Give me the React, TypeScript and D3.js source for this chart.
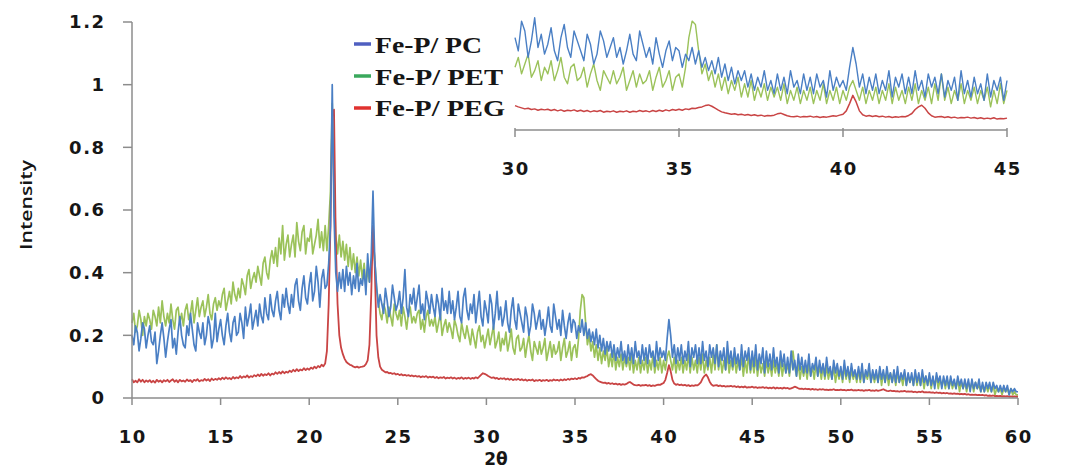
import React from 'react';
import * as d3 from 'd3';

// 2θ sampling of the diffractograms
const START_2THETA = 10;
const STEP_2THETA = 0.1;

const xTicks = [10, 15, 20, 25, 30, 35, 40, 45, 50, 55, 60];
const yTicks = [0, 0.2, 0.4, 0.6, 0.8, 1, 1.2];
const insetTicks = [30, 35, 40, 45];

const seriesNames = ['Fe-P/ PC', 'Fe-P/ PET', 'Fe-P/ PEG'];

// Fe-P/ PC intensities, one row per degree (x.0 … x.9)
const pcIntensity = [
  0.2, 0.17, 0.23, 0.21, 0.15, 0.19, 0.24, 0.22, 0.16, 0.2,
  0.23, 0.18, 0.17, 0.21, 0.11, 0.15, 0.2, 0.24, 0.19, 0.13,
  0.18, 0.22, 0.25, 0.16, 0.19, 0.14, 0.21, 0.26, 0.2, 0.17,
  0.16, 0.23, 0.2, 0.27, 0.22, 0.17, 0.15, 0.24, 0.21, 0.19,
  0.24, 0.17, 0.2, 0.26, 0.23, 0.16, 0.19, 0.27, 0.18, 0.22,
  0.25, 0.2, 0.17, 0.23, 0.27, 0.21, 0.18, 0.24, 0.26, 0.2,
  0.21, 0.27, 0.24, 0.19, 0.29, 0.23, 0.26, 0.3, 0.22, 0.25,
  0.28, 0.23, 0.3, 0.26, 0.24, 0.32, 0.27, 0.25, 0.33, 0.28,
  0.26, 0.31, 0.34, 0.28, 0.25, 0.33, 0.29, 0.35, 0.3, 0.27,
  0.33, 0.29, 0.36, 0.38, 0.31, 0.28, 0.35, 0.39, 0.32, 0.3,
  0.36, 0.4, 0.31, 0.34, 0.42, 0.37, 0.29, 0.38, 0.41, 0.35,
  0.36, 0.43, 0.55, 1.0, 0.58, 0.4, 0.34, 0.4, 0.35, 0.41,
  0.34, 0.42, 0.36, 0.4, 0.33, 0.39, 0.35, 0.43, 0.34, 0.38,
  0.36, 0.41, 0.33, 0.46, 0.37, 0.45, 0.66, 0.44, 0.36, 0.29,
  0.33, 0.3, 0.27, 0.35, 0.31, 0.26, 0.29, 0.36, 0.32, 0.28,
  0.3, 0.34, 0.27, 0.32, 0.41, 0.29, 0.26, 0.33, 0.3, 0.35,
  0.28, 0.32, 0.36, 0.27, 0.3, 0.25, 0.34, 0.31, 0.27, 0.33,
  0.29, 0.26, 0.33, 0.3, 0.25, 0.35, 0.28, 0.31, 0.27, 0.34,
  0.27, 0.31, 0.25, 0.29, 0.34, 0.26, 0.24, 0.32, 0.35, 0.28,
  0.25, 0.3, 0.27, 0.33, 0.24, 0.29, 0.34, 0.26, 0.23, 0.31,
  0.28, 0.24, 0.33, 0.3, 0.22, 0.27, 0.34, 0.25, 0.29, 0.23,
  0.26, 0.31, 0.24, 0.21, 0.28, 0.32, 0.25, 0.22, 0.3, 0.27,
  0.24, 0.21, 0.29, 0.26, 0.2, 0.23, 0.3, 0.27, 0.22, 0.25,
  0.28, 0.22, 0.25, 0.2, 0.24, 0.29, 0.23, 0.21, 0.3, 0.26,
  0.22, 0.25, 0.2, 0.28, 0.23, 0.19, 0.24, 0.27, 0.21, 0.25,
  0.24, 0.19, 0.23, 0.21, 0.25, 0.2, 0.24, 0.19, 0.22, 0.18,
  0.21, 0.17, 0.22, 0.16, 0.2, 0.15, 0.19, 0.14, 0.18, 0.15,
  0.18, 0.13, 0.17, 0.12, 0.16, 0.13, 0.18, 0.12, 0.15, 0.11,
  0.17, 0.12, 0.16, 0.11, 0.18, 0.13, 0.15, 0.11, 0.17, 0.12,
  0.16, 0.11, 0.17, 0.13, 0.15, 0.1, 0.18, 0.12, 0.16, 0.13,
  0.15, 0.12, 0.19, 0.25, 0.2, 0.13, 0.17, 0.11, 0.16, 0.12,
  0.17, 0.11, 0.15, 0.12, 0.18, 0.1, 0.16, 0.13, 0.17, 0.11,
  0.16, 0.11, 0.18, 0.12, 0.15, 0.1, 0.17, 0.13, 0.16, 0.11,
  0.17, 0.1, 0.15, 0.12, 0.16, 0.09, 0.18, 0.11, 0.15, 0.1,
  0.16, 0.11, 0.14, 0.09, 0.17, 0.1, 0.15, 0.12, 0.16, 0.09,
  0.15, 0.1, 0.17, 0.09, 0.14, 0.11, 0.16, 0.08, 0.15, 0.1,
  0.14, 0.09, 0.16, 0.1, 0.13, 0.08, 0.15, 0.1, 0.14, 0.08,
  0.13, 0.08, 0.15, 0.09, 0.12, 0.07, 0.14, 0.09, 0.13, 0.08,
  0.12, 0.08, 0.14, 0.07, 0.11, 0.09, 0.13, 0.07, 0.12, 0.08,
  0.11, 0.07, 0.13, 0.08, 0.1, 0.06, 0.12, 0.08, 0.11, 0.07,
  0.1, 0.06, 0.12, 0.07, 0.1, 0.06, 0.11, 0.07, 0.09, 0.06,
  0.1, 0.06, 0.11, 0.05, 0.09, 0.07, 0.11, 0.05, 0.09, 0.06,
  0.09, 0.05, 0.1, 0.06, 0.09, 0.05, 0.1, 0.06, 0.08, 0.05,
  0.09, 0.05, 0.1, 0.05, 0.08, 0.06, 0.09, 0.04, 0.08, 0.05,
  0.08, 0.04, 0.09, 0.05, 0.08, 0.04, 0.09, 0.05, 0.07, 0.04,
  0.08, 0.04, 0.07, 0.03, 0.08, 0.05, 0.07, 0.03, 0.07, 0.04,
  0.07, 0.03, 0.07, 0.04, 0.06, 0.03, 0.07, 0.04, 0.06, 0.03,
  0.06, 0.03, 0.06, 0.02, 0.06, 0.03, 0.05, 0.03, 0.06, 0.02,
  0.05, 0.02, 0.05, 0.03, 0.05, 0.02, 0.05, 0.03, 0.04, 0.02,
  0.04, 0.02, 0.04, 0.02, 0.04, 0.01, 0.03, 0.02, 0.03, 0.02,
  0.02,
];

// Fe-P/ PET intensities
const petIntensity = [
  0.24, 0.27, 0.21, 0.23, 0.28, 0.25, 0.2, 0.26, 0.23, 0.27,
  0.25, 0.22, 0.28, 0.26, 0.23, 0.29, 0.24, 0.31, 0.26, 0.23,
  0.27, 0.24, 0.3, 0.25, 0.22, 0.28, 0.29, 0.24, 0.27, 0.23,
  0.28, 0.3, 0.25, 0.27, 0.31, 0.24, 0.28, 0.32, 0.26, 0.29,
  0.31, 0.26, 0.29, 0.33, 0.27, 0.25, 0.3, 0.32, 0.28, 0.31,
  0.29, 0.33, 0.35, 0.28, 0.31, 0.34, 0.3, 0.37, 0.33, 0.31,
  0.35, 0.32, 0.38, 0.36, 0.33, 0.39, 0.41, 0.35, 0.38, 0.4,
  0.37, 0.42, 0.39, 0.36, 0.43, 0.45, 0.4, 0.38, 0.44, 0.47,
  0.43, 0.48, 0.42, 0.51, 0.46, 0.55, 0.44, 0.49, 0.52, 0.45,
  0.49, 0.52, 0.45, 0.56, 0.5, 0.47, 0.53, 0.55, 0.46, 0.51,
  0.5, 0.54, 0.46, 0.49, 0.52, 0.57, 0.48, 0.53, 0.47, 0.55,
  0.47, 0.55, 0.66, 0.94, 0.68, 0.52, 0.46, 0.52, 0.45, 0.5,
  0.44, 0.49, 0.42, 0.48, 0.41, 0.46, 0.4, 0.45, 0.39, 0.44,
  0.38, 0.43, 0.36, 0.41, 0.37, 0.43, 0.52, 0.44, 0.35, 0.31,
  0.27, 0.25, 0.3, 0.28, 0.24, 0.29, 0.26, 0.23, 0.3, 0.27,
  0.25, 0.28, 0.23, 0.29, 0.26, 0.22, 0.27, 0.29, 0.24, 0.26,
  0.24, 0.27, 0.28, 0.22, 0.25, 0.21, 0.26, 0.28, 0.23, 0.25,
  0.23, 0.26, 0.21, 0.24, 0.27, 0.2, 0.23, 0.25, 0.21, 0.24,
  0.22, 0.19, 0.25, 0.23, 0.2, 0.18, 0.24, 0.21, 0.19, 0.23,
  0.2, 0.17, 0.22, 0.19, 0.16, 0.21, 0.23, 0.18, 0.2, 0.16,
  0.19, 0.22, 0.17, 0.2, 0.23, 0.16, 0.18, 0.21, 0.15, 0.19,
  0.17, 0.21, 0.15, 0.18, 0.22, 0.16, 0.14, 0.19, 0.2, 0.15,
  0.16, 0.19, 0.13, 0.17, 0.2, 0.15, 0.12, 0.18, 0.16, 0.14,
  0.18, 0.14, 0.16, 0.19, 0.12, 0.15, 0.18, 0.13, 0.17, 0.14,
  0.15, 0.18, 0.12, 0.16, 0.19, 0.13, 0.15, 0.18, 0.12, 0.16,
  0.17, 0.13, 0.19, 0.28, 0.33, 0.32, 0.24, 0.17, 0.2, 0.15,
  0.18, 0.13, 0.17, 0.12, 0.16, 0.11, 0.15, 0.12, 0.16, 0.1,
  0.14, 0.1, 0.15, 0.09, 0.13, 0.1, 0.14, 0.09, 0.13, 0.1,
  0.13, 0.09, 0.14, 0.08, 0.12, 0.09, 0.13, 0.08, 0.12, 0.09,
  0.13, 0.08, 0.12, 0.09, 0.14, 0.08, 0.12, 0.09, 0.13, 0.08,
  0.12, 0.09, 0.13, 0.15, 0.12, 0.09, 0.13, 0.08, 0.12, 0.09,
  0.13, 0.08, 0.12, 0.09, 0.14, 0.08, 0.13, 0.09, 0.12, 0.08,
  0.13, 0.09, 0.14, 0.08, 0.12, 0.09, 0.13, 0.08, 0.14, 0.09,
  0.17, 0.09, 0.13, 0.08, 0.12, 0.09, 0.14, 0.08, 0.12, 0.09,
  0.13, 0.08, 0.12, 0.09, 0.13, 0.07, 0.12, 0.08, 0.14, 0.08,
  0.12, 0.08, 0.13, 0.07, 0.12, 0.08, 0.11, 0.07, 0.12, 0.08,
  0.11, 0.07, 0.12, 0.08, 0.11, 0.07, 0.12, 0.07, 0.11, 0.08,
  0.11, 0.07, 0.12, 0.15, 0.1, 0.07, 0.11, 0.06, 0.1, 0.07,
  0.1, 0.06, 0.11, 0.07, 0.1, 0.06, 0.11, 0.07, 0.1, 0.06,
  0.1, 0.06, 0.1, 0.06, 0.09, 0.06, 0.1, 0.05, 0.09, 0.06,
  0.09, 0.05, 0.1, 0.06, 0.09, 0.05, 0.09, 0.06, 0.08, 0.05,
  0.09, 0.05, 0.09, 0.05, 0.08, 0.06, 0.09, 0.05, 0.08, 0.05,
  0.08, 0.05, 0.09, 0.04, 0.08, 0.05, 0.08, 0.04, 0.08, 0.05,
  0.08, 0.04, 0.08, 0.05, 0.07, 0.04, 0.08, 0.04, 0.07, 0.05,
  0.07, 0.04, 0.08, 0.04, 0.07, 0.04, 0.07, 0.03, 0.07, 0.04,
  0.07, 0.03, 0.06, 0.04, 0.07, 0.03, 0.06, 0.04, 0.06, 0.03,
  0.06, 0.03, 0.06, 0.03, 0.05, 0.03, 0.06, 0.02, 0.05, 0.03,
  0.05, 0.02, 0.05, 0.03, 0.05, 0.02, 0.05, 0.03, 0.04, 0.02,
  0.04, 0.02, 0.04, 0.02, 0.04, 0.02, 0.04, 0.01, 0.03, 0.02,
  0.03, 0.01, 0.03, 0.02, 0.03, 0.01, 0.03, 0.01, 0.02, 0.01,
  0.01,
];

// Fe-P/ PEG intensities
const pegIntensity = [
  0.06, 0.05, 0.055, 0.05, 0.06, 0.052, 0.058, 0.05, 0.056, 0.052,
  0.057, 0.05, 0.055, 0.049, 0.058, 0.052, 0.056, 0.05, 0.057, 0.053,
  0.058, 0.051, 0.056, 0.06, 0.052, 0.057, 0.05, 0.058, 0.053, 0.056,
  0.052, 0.059, 0.054, 0.057, 0.051, 0.058, 0.055, 0.06, 0.053, 0.057,
  0.055, 0.061, 0.056, 0.06, 0.054, 0.062, 0.057, 0.061, 0.058, 0.063,
  0.059, 0.065, 0.06, 0.066, 0.061, 0.064, 0.06, 0.067, 0.062, 0.066,
  0.063, 0.07, 0.064, 0.069, 0.066, 0.072, 0.065, 0.07, 0.067, 0.073,
  0.069, 0.075, 0.07, 0.077, 0.071, 0.076, 0.073, 0.079, 0.072, 0.078,
  0.075, 0.082, 0.077, 0.083, 0.078, 0.085, 0.079, 0.084, 0.081, 0.087,
  0.083, 0.09, 0.085, 0.092, 0.086, 0.091, 0.088, 0.095, 0.089, 0.094,
  0.09, 0.097, 0.093, 0.1, 0.095, 0.102, 0.098, 0.106, 0.101, 0.11,
  0.15, 0.3, 0.55, 0.9, 0.92, 0.5, 0.3, 0.2, 0.16, 0.14,
  0.125, 0.115, 0.11, 0.106, 0.104, 0.1, 0.098, 0.1, 0.097, 0.099,
  0.1, 0.102, 0.108, 0.12, 0.17, 0.33, 0.55, 0.42, 0.2, 0.13,
  0.1, 0.09, 0.086, 0.082, 0.083, 0.079, 0.08, 0.077, 0.079, 0.075,
  0.077, 0.073, 0.076, 0.072, 0.074, 0.071, 0.073, 0.07, 0.072, 0.069,
  0.071, 0.068, 0.07, 0.066, 0.069, 0.067, 0.07, 0.065, 0.068, 0.066,
  0.068, 0.064, 0.067, 0.063, 0.066, 0.064, 0.067, 0.062, 0.065, 0.063,
  0.066, 0.062, 0.065, 0.061, 0.064, 0.062, 0.066, 0.061, 0.064, 0.062,
  0.065, 0.061, 0.064, 0.062, 0.066, 0.063, 0.068, 0.074, 0.079, 0.077,
  0.074, 0.07, 0.067, 0.064, 0.066, 0.062, 0.064, 0.06, 0.063, 0.061,
  0.063, 0.059, 0.062, 0.058, 0.061, 0.057, 0.06, 0.058, 0.061, 0.057,
  0.06, 0.056, 0.059, 0.055, 0.058, 0.056, 0.059, 0.054, 0.057, 0.055,
  0.058, 0.054, 0.057, 0.055, 0.058, 0.054, 0.057, 0.055, 0.059, 0.056,
  0.058, 0.055, 0.059, 0.056, 0.06, 0.057, 0.061, 0.058, 0.062, 0.06,
  0.063, 0.06, 0.064, 0.062, 0.066, 0.065, 0.068, 0.07, 0.074, 0.076,
  0.072, 0.066, 0.06, 0.055, 0.052, 0.05, 0.048, 0.049, 0.046, 0.048,
  0.045, 0.047, 0.044, 0.046, 0.043, 0.045, 0.042, 0.044, 0.043, 0.045,
  0.049, 0.051, 0.047, 0.043, 0.041, 0.04, 0.042, 0.039, 0.041, 0.04,
  0.042, 0.039, 0.041, 0.038, 0.04, 0.039, 0.041, 0.043, 0.042, 0.045,
  0.048, 0.058, 0.08, 0.105, 0.085, 0.058, 0.046, 0.042, 0.044, 0.041,
  0.043, 0.04, 0.042, 0.039, 0.041, 0.038, 0.04, 0.039, 0.041, 0.04,
  0.044, 0.05, 0.062, 0.07, 0.075, 0.066, 0.052, 0.043, 0.039, 0.04,
  0.041, 0.038, 0.04, 0.037, 0.039, 0.036, 0.038, 0.037, 0.039, 0.036,
  0.038, 0.035, 0.037, 0.034, 0.036, 0.034, 0.037, 0.033, 0.035, 0.034,
  0.036, 0.033, 0.035, 0.032, 0.034, 0.033, 0.035, 0.032, 0.034, 0.031,
  0.033, 0.031, 0.034, 0.03, 0.033, 0.031, 0.032, 0.03, 0.033, 0.031,
  0.032, 0.029, 0.031, 0.033, 0.036, 0.034, 0.031, 0.029, 0.03, 0.028,
  0.03, 0.028, 0.029, 0.027, 0.029, 0.027, 0.028, 0.026, 0.028, 0.027,
  0.028, 0.026, 0.027, 0.025, 0.027, 0.026, 0.028, 0.025, 0.026, 0.025,
  0.027, 0.025, 0.026, 0.024, 0.026, 0.025, 0.027, 0.024, 0.025, 0.024,
  0.026, 0.024, 0.025, 0.023, 0.025, 0.024, 0.026, 0.023, 0.024, 0.023,
  0.025, 0.023, 0.024, 0.026, 0.028, 0.025, 0.023, 0.022, 0.024, 0.022,
  0.023, 0.021, 0.022, 0.02, 0.022, 0.021, 0.023, 0.02, 0.021, 0.02,
  0.021, 0.019, 0.02, 0.018, 0.02, 0.019, 0.021, 0.018, 0.019, 0.018,
  0.019, 0.017, 0.018, 0.016, 0.018, 0.016, 0.017, 0.015, 0.016, 0.015,
  0.016, 0.014, 0.015, 0.013, 0.015, 0.013, 0.014, 0.012, 0.013, 0.012,
  0.013, 0.011, 0.012, 0.01, 0.011, 0.01, 0.011, 0.009, 0.01, 0.009,
  0.01, 0.008, 0.009, 0.007, 0.008, 0.007, 0.008, 0.006, 0.007, 0.006,
  0.007, 0.005, 0.006, 0.005, 0.006, 0.004, 0.005, 0.004, 0.005, 0.004,
  0.004,
];

type Pt = [number, number];

const toPoints = (values: number[]): Pt[] =>
  values.map((v, i) => [Math.round((START_2THETA + i * STEP_2THETA) * 10) / 10, v]);

const AXIS = '#8c8c8c';
const INK = '#161616';
const TICK_FONT = '"DejaVu Sans", Verdana, sans-serif';

export default function App() {
  const width = 1083;
  const height = 470;

  // main panel
  const x = d3.scaleLinear().domain([10, 60]).range([132, 1018]);
  const y = d3.scaleLinear().domain([0, 1.2]).range([398, 22]);
  // magnified 30–45° inset
  const xi = d3.scaleLinear().domain([30, 45]).range([515, 1007]);
  const yi = d3.scaleLinear().domain([0, 0.4]).range([130, -2]);

  const mainLine = d3.line<Pt>().x((d) => x(d[0])).y((d) => y(d[1]));
  const insetLine = d3.line<Pt>().x((d) => xi(d[0])).y((d) => yi(d[1]));

  const series = [
    { name: seriesNames[0], values: pcIntensity, color: '#4a7fc4', key: '#4f5fc0', width: 1.7, insetWidth: 1.4 },
    { name: seriesNames[1], values: petIntensity, color: '#9bc25a', key: '#3aa85c', width: 1.7, insetWidth: 1.4 },
    { name: seriesNames[2], values: pegIntensity, color: '#c94444', key: '#e0322f', width: 1.8, insetWidth: 1.5 },
  ];
  // draw order: PET underneath, then PEG, PC on top
  const drawOrder = [series[1], series[2], series[0]];

  const legendBaselines = [53, 85, 116];
  const legendMarkY = [44, 76, 108];
  const legendWidths = [107, 128, 130];

  return (
    <svg
      width={width}
      height={height}
      style={{ position: 'fixed', left: 0, top: 0, background: '#fff' }}
    >
      <rect width={width} height={height} fill="#fff" />

      {/* data, main panel */}
      {drawOrder.map((s) => (
        <path
          key={'m-' + s.name}
          d={mainLine(toPoints(s.values)) || ''}
          fill="none"
          stroke={s.color}
          strokeWidth={s.width}
          strokeLinejoin="round"
        />
      ))}

      {/* main axes */}
      <line x1={x(10)} x2={x(10)} y1={y(1.2)} y2={y(0)} stroke={AXIS} strokeWidth={1.5} />
      <line x1={x(10)} x2={x(60)} y1={y(0)} y2={y(0)} stroke={AXIS} strokeWidth={1.5} />
      {yTicks.map((t) => (
        <g key={'yt' + t}>
          <line x1={x(10) - 9} x2={x(10)} y1={y(t)} y2={y(t)} stroke={AXIS} strokeWidth={1.5} />
          <text
            x={105.5}
            y={y(t)}
            dy="0.36em"
            textAnchor="end"
            fontFamily={TICK_FONT}
            fontWeight="bold"
            fontSize={18}
            letterSpacing={1.5}
            fill={INK}
          >
            {String(t)}
          </text>
        </g>
      ))}
      {xTicks.map((t) => (
        <g key={'xt' + t}>
          <line x1={x(t)} x2={x(t)} y1={y(0)} y2={y(0) + 7} stroke={AXIS} strokeWidth={1.5} />
          <text
            x={x(t) + 0.75}
            y={443}
            textAnchor="middle"
            fontFamily={TICK_FONT}
            fontWeight="bold"
            fontSize={18}
            letterSpacing={1.5}
            fill={INK}
          >
            {String(t)}
          </text>
        </g>
      ))}
      <text
        x={496}
        y={465}
        textAnchor="middle"
        fontFamily={TICK_FONT}
        fontWeight="bold"
        fontSize={17}
        fill={INK}
      >
        2θ
      </text>
      <text
        transform="translate(32,205) rotate(-90)"
        textAnchor="middle"
        fontFamily='"Open Sans", Calibri, sans-serif'
        fontWeight={600}
        fontSize={16}
        textLength={90}
        lengthAdjust="spacingAndGlyphs"
        fill={INK}
      >
        Intensity
      </text>

      {/* inset 30–45° */}
      {drawOrder.map((s) => (
        <path
          key={'i-' + s.name}
          d={insetLine(toPoints(s.values).filter((d) => d[0] >= 30 && d[0] <= 45)) || ''}
          fill="none"
          stroke={s.color}
          strokeWidth={s.insetWidth}
          strokeLinejoin="round"
        />
      ))}
      <line x1={xi(30)} x2={xi(45)} y1={yi(0)} y2={yi(0)} stroke={AXIS} strokeWidth={1.5} />
      {insetTicks.map((t) => (
        <g key={'it' + t}>
          <line x1={xi(t)} x2={xi(t)} y1={yi(0) - 2} y2={yi(0) + 7} stroke={AXIS} strokeWidth={1.5} />
          <text
            x={xi(t) + 0.75}
            y={175}
            textAnchor="middle"
            fontFamily={TICK_FONT}
            fontWeight="bold"
            fontSize={18}
            letterSpacing={1.5}
            fill={INK}
          >
            {String(t)}
          </text>
        </g>
      ))}

      {/* legend */}
      {series.map((s, i) => (
        <g key={'lg' + s.name}>
          <line
            x1={354}
            x2={371}
            y1={legendMarkY[i]}
            y2={legendMarkY[i]}
            stroke={s.key}
            strokeWidth={3.5}
          />
          <text
            x={375}
            y={legendBaselines[i]}
            fontFamily='"Liberation Serif", "Times New Roman", serif'
            fontWeight="bold"
            fontSize={24}
            textLength={legendWidths[i]}
            lengthAdjust="spacingAndGlyphs"
            fill={INK}
          >
            {s.name}
          </text>
        </g>
      ))}
    </svg>
  );
}
